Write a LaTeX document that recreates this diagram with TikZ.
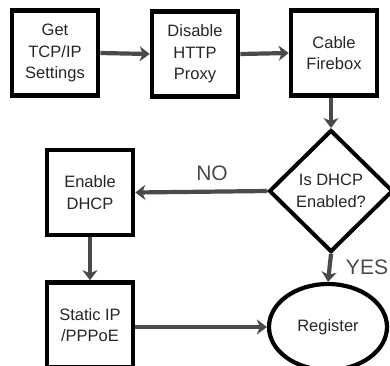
\documentclass[tikz,border=0pt]{standalone}
\usepackage{fontspec}
\setmainfont{Liberation Sans}
\usetikzlibrary{shapes.geometric,arrows.meta}
\definecolor{arrgray}{HTML}{4A4A4A}
\definecolor{txtgray}{HTML}{262626}
\begin{document}
\begin{tikzpicture}[x=1pt,y=-1pt,
  boxnode/.style={draw=black,line width=4.6pt,minimum width=86pt,minimum height=85pt,inner sep=0pt,align=center,
    font=\fontsize{16.5}{21.5}\selectfont,text=txtgray},
  flowarrow/.style={draw=arrgray,line width=4.2pt,-{Stealth[length=10pt,width=15pt,inset=3pt]}},
  lbl/.style={font=\fontsize{21}{24}\selectfont,text=arrgray}]
\useasboundingbox (0,0) rectangle (390,365);
\node[boxnode] (get) at (55,53) {Get\\TCP/IP\\Settings};
\node[boxnode] (dis) at (195,54) {Disable\\HTTP\\Proxy};
\node[boxnode] (cab) at (334,53) {Cable\\Firebox};
\node[draw=black,line width=4pt,shape=diamond,minimum width=124pt,minimum height=122pt,inner sep=0pt,align=center,
  font=\fontsize{16.5}{21.5}\selectfont,text=txtgray] (dhcp) at (331,191) {Is DHCP\\Enabled?};
\node[boxnode] (en) at (90,192.5) {Enable\\DHCP};
\node[boxnode] (st) at (90,325) {Static IP\\/PPPoE};
\node[draw=black,line width=4.2pt,shape=ellipse,minimum width=118pt,minimum height=86pt,inner sep=0pt,
  font=\fontsize{16.5}{21.5}\selectfont,text=txtgray] (reg) at (328,327) {Register};
\draw[flowarrow] (get.east) -- (dis.west);
\draw[flowarrow] (dis.east) -- (cab.west);
\draw[flowarrow] (cab.south -| dhcp.north) -- (dhcp.north);
\draw[flowarrow] (dhcp.west) -- (en.east);
\draw[flowarrow] (en.south) -- (st.north);
\draw[flowarrow] (dhcp.south) -- (reg.north);
\draw[flowarrow] (st.east |- reg.west) -- (reg.west);
\node[lbl] (no) at (212,173) {NO};
\node[lbl] (yes) at (367,267) {YES};
\end{tikzpicture}
\end{document}
